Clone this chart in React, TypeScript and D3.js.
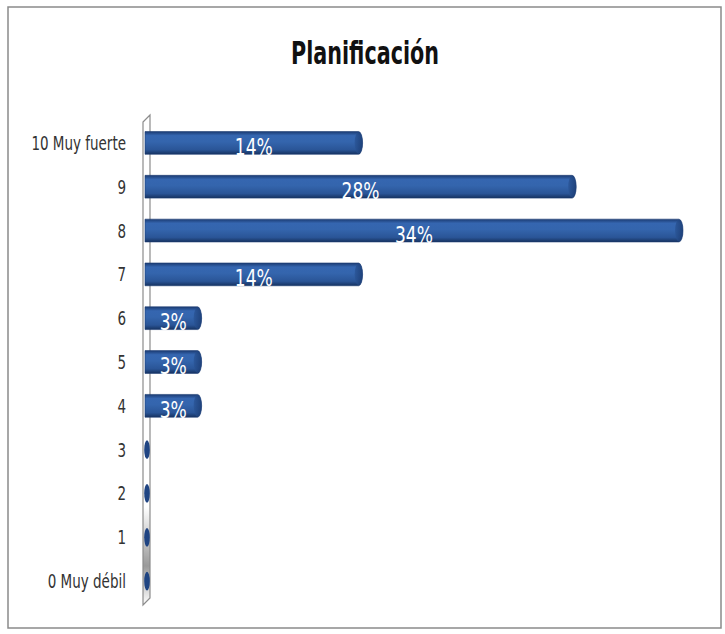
import * as d3 from "d3";
import React from "react";

const categories = ["10 Muy fuerte", "9", "8", "7", "6", "5", "4", "3", "2", "1", "0 Muy débil"];
const values = [13.8, 27.6, 34.5, 13.8, 3.4, 3.4, 3.4, 0, 0, 0, 0];
const valueLabels = ["14%", "28%", "34%", "14%", "3%", "3%", "3%", "", "", "", ""];
const title = "Planificación";

const W = 725;
const H = 634;
const narrow = "'Liberation Sans Narrow', 'Arial Narrow', 'DejaVu Sans Condensed', sans-serif";

function App() {
    const x0 = 145;
    const x = d3.scaleLinear().domain([0, 34.5]).range([x0, 679]);
    const y = d3.scaleBand().domain(categories).range([121, 603]).paddingInner(0.48).paddingOuter(0.24);
    const bh = y.bandwidth();
    const cap = 4;

    return (
        <svg width={W} height={H} style={{ position: "absolute", left: 0, top: 0, background: "#fff" }}>
            <defs>
                <linearGradient id="barGrad" x1="0" y1="0" x2="0" y2="1">
                    <stop offset="0%" stopColor="#1b3b72" />
                    <stop offset="18%" stopColor="#3566b0" />
                    <stop offset="45%" stopColor="#3465ad" />
                    <stop offset="80%" stopColor="#2a5597" />
                    <stop offset="100%" stopColor="#163260" />
                </linearGradient>
                <linearGradient id="capGrad" x1="0" y1="0" x2="1" y2="0">
                    <stop offset="0%" stopColor="#2a5597" />
                    <stop offset="100%" stopColor="#1a3a70" />
                </linearGradient>
                <linearGradient id="wallGrad" x1="0" y1="0" x2="0" y2="1">
                    <stop offset="0%" stopColor="#ffffff" />
                    <stop offset="80%" stopColor="#ffffff" />
                    <stop offset="92%" stopColor="#9a9a9a" />
                    <stop offset="100%" stopColor="#ffffff" />
                </linearGradient>
            </defs>
            <rect x={8} y={7} width={713} height={621} fill="#fff" stroke="#8a8a8a" strokeWidth={1.5} />
            <text x={365} y={64} textAnchor="middle" fontFamily={narrow} fontWeight="bold" fontSize={23}
                transform="translate(0,64) scale(1,1.4) translate(0,-64)" fill="#111">{title}</text>

            {/* axis wall */}
            <path d={`M143,122 L150,115 L150,598 L143,605 Z`} fill="url(#wallGrad)" stroke="#8c8c8c" strokeWidth={1.2} />

            {categories.map((c, i) => {
                const cy = (y(c) as number) + bh / 2;
                return (
                    <text key={c} x={126} y={cy + 7} textAnchor="end" fontFamily={narrow} fontSize={15}
                        transform={`translate(0,${cy + 7}) scale(1,1.25) translate(0,${-(cy + 7)})`} fill="#333">{c}</text>
                );
            })}

            {values.map((v, i) => {
                const top = y(categories[i]) as number;
                const cy = top + bh / 2;
                if (v === 0) {
                    return <ellipse key={i} cx={x0 + 2} cy={cy} rx={2.8} ry={bh / 2 - 2} fill="#1f4482" />;
                }
                const xe = x(v) + cap;
                return (
                    <g key={i}>
                        <path d={`M${x0},${top} L${xe - cap},${top} A${cap},${bh / 2} 0 0 1 ${xe - cap},${top + bh} L${x0},${top + bh} Z`}
                            fill="url(#barGrad)" stroke="#1d3d74" strokeWidth={0.6} />
                        <ellipse cx={xe - cap} cy={cy} rx={cap} ry={bh / 2 - 0.5} fill="url(#capGrad)" opacity={0.8} />
                        <text x={(x0 + xe) / 2} y={cy + 12} textAnchor="middle" fontFamily={narrow} fontSize={19}
                            transform={`translate(0,${cy + 12}) scale(1,1.25) translate(0,${-(cy + 12)})`}
                            fill="#fff">{valueLabels[i]}</text>
                    </g>
                );
            })}
        </svg>
    );
}

export default App;
